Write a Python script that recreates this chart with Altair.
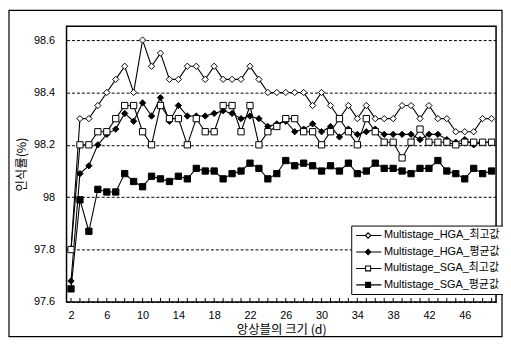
import altair as alt
import pandas as pd

sizes = list(range(2, 50))
series_names = ["Multistage_HGA_최고값", "Multistage_HGA_평균값",
                "Multistage_SGA_최고값", "Multistage_SGA_평균값"]
hga_best = [97.80, 98.30, 98.30, 98.35, 98.40, 98.45, 98.50, 98.40, 98.60, 98.50,
            98.55, 98.45, 98.45, 98.50, 98.50, 98.45, 98.50, 98.45, 98.45, 98.45,
            98.50, 98.45, 98.40, 98.40, 98.40, 98.40, 98.40, 98.35, 98.40, 98.35,
            98.30, 98.35, 98.30, 98.35, 98.30, 98.30, 98.30, 98.35, 98.35, 98.30,
            98.35, 98.30, 98.30, 98.25, 98.25, 98.25, 98.30, 98.30]
hga_avg = [97.68, 98.09, 98.12, 98.20, 98.24, 98.26, 98.32, 98.29, 98.36, 98.31,
           98.38, 98.29, 98.35, 98.31, 98.31, 98.31, 98.32, 98.33, 98.32, 98.30,
           98.31, 98.30, 98.27, 98.28, 98.29, 98.25, 98.26, 98.28, 98.25, 98.27,
           98.23, 98.26, 98.24, 98.25, 98.26, 98.24, 98.24, 98.24, 98.24, 98.22,
           98.24, 98.24, 98.22, 98.21, 98.22, 98.20, 98.21, 98.21]
sga_best = [97.80, 98.20, 98.20, 98.25, 98.25, 98.30, 98.35, 98.35, 98.25, 98.20,
            98.35, 98.30, 98.30, 98.20, 98.30, 98.25, 98.25, 98.35, 98.35, 98.25,
            98.35, 98.20, 98.25, 98.27, 98.30, 98.30, 98.25, 98.25, 98.20, 98.25,
            98.30, 98.25, 98.20, 98.30, 98.25, 98.21, 98.21, 98.15, 98.21, 98.26,
            98.21, 98.21, 98.21, 98.20, 98.21, 98.21, 98.21, 98.21]
sga_avg = [97.65, 97.99, 97.87, 98.03, 98.02, 98.02, 98.09, 98.06, 98.04, 98.08,
           98.07, 98.06, 98.08, 98.07, 98.11, 98.10, 98.10, 98.07, 98.09, 98.10,
           98.13, 98.11, 98.07, 98.09, 98.14, 98.12, 98.13, 98.12, 98.10, 98.12,
           98.10, 98.13, 98.09, 98.10, 98.13, 98.11, 98.11, 98.10, 98.09, 98.11,
           98.11, 98.14, 98.10, 98.09, 98.07, 98.11, 98.09, 98.10]
y_ticks = [97.6, 97.8, 98.0, 98.2, 98.4, 98.6]

rows = []
for name, vals in zip(series_names, [hga_best, hga_avg, sga_best, sga_avg]):
    for d, v in zip(sizes, vals):
        rows.append({"d": d, "value": v, "series": name})
df = pd.DataFrame(rows)

W, H = 433, 278
FONT = "Liberation Sans, Noto Sans CJK KR"
KFONT = "Noto Sans CJK KR"

x_enc = alt.X("d:O", scale=alt.Scale(type="point", padding=0.5),
              axis=alt.Axis(title="앙상블의 크기 (d)", labelAngle=0,
                            labelExpr="datum.value % 4 == 2 ? datum.label : ''",
                            ticks=False, tickSize=0, domain=False, grid=False,
                            labelPadding=8, labelFontSize=11, labelFont=FONT,
                            labelColor="black", titleFont=KFONT, titleFontSize=12.5,
                            titleFontWeight="normal", titleColor="black", titlePadding=3))
y_enc = alt.Y("value:Q", scale=alt.Scale(domain=[97.6, 98.653], nice=False, zero=False),
              axis=alt.Axis(title="인식률(%)", values=y_ticks,
                            labelExpr="datum.value == 98 ? '98' : format(datum.value, '.1f')",
                            ticks=False, tickSize=0, domain=False,
                            grid=True, gridColor="black", gridDash=[3, 2], gridWidth=1,
                            gridOpacity=1,
                            labelPadding=12, labelFontSize=11, labelFont=FONT,
                            labelColor="black", titleFont=KFONT, titleFontSize=12.5,
                            titleFontWeight="normal", titleColor="black", titlePadding=5))

lines = alt.Chart(df).mark_line(color="black", strokeWidth=1.1).encode(
    x=x_enc, y=y_enc, detail="series:N")

points = alt.Chart(df).mark_point(filled=True, stroke="black", strokeWidth=1,
                                  size=40, opacity=1).encode(
    x="d:O", y="value:Q",
    shape=alt.Shape("series:N", scale=alt.Scale(domain=series_names,
                    range=["diamond", "diamond", "square", "square"]), legend=None),
    fill=alt.Fill("series:N", scale=alt.Scale(domain=series_names,
                  range=["white", "black", "white", "black"]), legend=None),
)

leg_paths = [
    "M-1,0L0.85,0M1.95,0L4.1,0M1.4,-0.55L1.95,0L1.4,0.55L0.85,0Z",
    "M-1,0L0.85,0M1.95,0L4.1,0M1.4,-0.55L1.95,0L1.4,0.55L0.85,0Z",
    "M-1,0L0.9,0M1.9,0L4.1,0M0.9,-0.5L1.9,-0.5L1.9,0.5L0.9,0.5Z",
    "M-1,0L0.9,0M1.9,0L4.1,0M0.9,-0.5L1.9,-0.5L1.9,0.5L0.9,0.5Z",
]
leg = alt.Legend(title=None, orient="none", legendX=287, legendY=201,
                 strokeColor="black", fillColor="white", padding=4,
                 labelFont=FONT, labelFontSize=11, labelColor="black",
                 labelOffset=17, labelLimit=300, rowPadding=5.6,
                 symbolStrokeColor="black", symbolStrokeWidth=1.1, symbolSize=100,
                 symbolOpacity=1, cornerRadius=0)
legend_layer = alt.Chart(df).transform_filter("false").mark_point(
    filled=True, strokeWidth=1, size=100, opacity=1).encode(
    x="d:O", y="value:Q",
    shape=alt.Shape("series:N", scale=alt.Scale(domain=series_names, range=leg_paths),
                    legend=leg),
    fill=alt.Fill("series:N", scale=alt.Scale(domain=series_names,
                  range=["white", "black", "white", "black"]), legend=leg),
    stroke=alt.Stroke("series:N", scale=alt.Scale(domain=series_names,
                      range=["black", "black", "black", "black"]), legend=leg),
)

tick_df = pd.DataFrame({"d": sizes})
ticks = alt.Chart(tick_df).mark_rule(color="black", strokeWidth=1).encode(
    x="d:O", y=alt.value(H - 4), y2=alt.value(H))

frame = alt.Chart(pd.DataFrame({"a": [0]})).mark_rect(
    fillOpacity=0, stroke="black", strokeWidth=1.2).encode(
    x=alt.value(-58), x2=alt.value(439), y=alt.value(-16), y2=alt.value(313))

chart = alt.layer(frame, lines, points, ticks, legend_layer).resolve_scale(
    shape="independent", fill="independent", stroke="independent"
).properties(
    width=W, height=H, autosize="none",
    padding={"left": 59, "top": 17, "right": 7, "bottom": 35},
).configure_view(stroke="black", strokeWidth=1.5)

chart.save("out.html", embed_options={"renderer": "svg", "actions": False})
